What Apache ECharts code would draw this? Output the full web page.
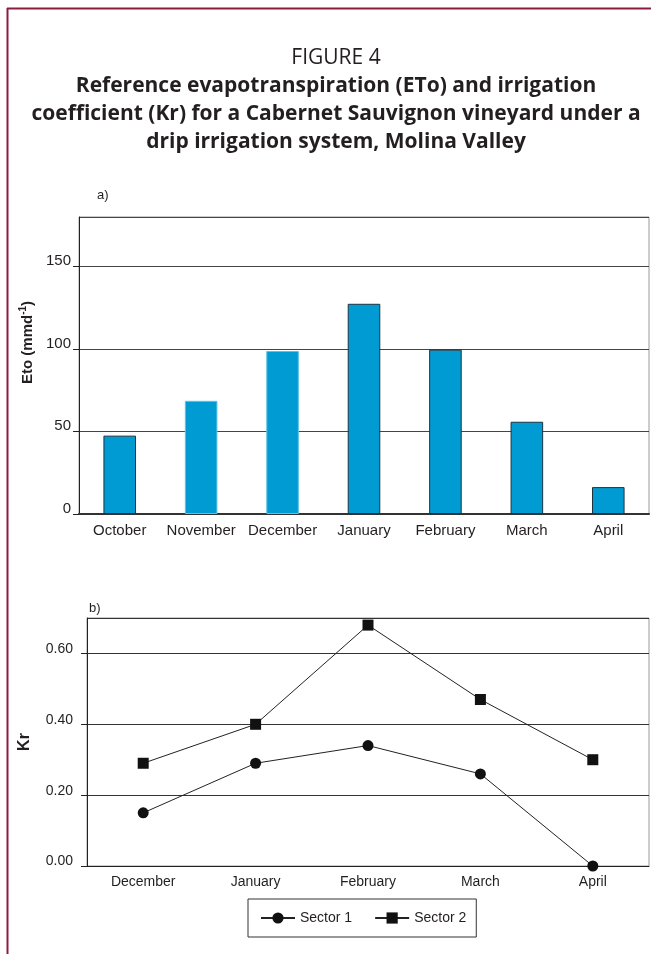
<!DOCTYPE html>
<html>
<head>
<meta charset="utf-8">
<script src="https://cdn.jsdelivr.net/npm/echarts@6/dist/echarts.min.js"></script>
<style>
  html, body { margin: 0; padding: 0; background: #fff; }
  #chart { width: 651px; height: 954px; }
</style>
</head>
<body>
<div id="chart"></div>
<script>
// panel a) monthly ETo
const etoMonths = ['October', 'November', 'December', 'January', 'February', 'March', 'April'];
const etoValues = [47.5, 68.6, 98.8, 127.4, 99.6, 55.9, 16.3];

// panel b) Kr per sector
const krMonths = ['December', 'January', 'February', 'March', 'April'];
const sector1 = [0.15, 0.29, 0.34, 0.26, 0.0];
const sector2 = [0.29, 0.40, 0.68, 0.47, 0.30];

const font = 'Liberation Sans, Arial, sans-serif';
const ink = '#231f20';

const chart = echarts.init(document.getElementById('chart'));

// November and December have no dark edge in the original
const barData = etoValues.map((v, i) => (i === 1 || i === 2)
  ? { value: v, itemStyle: { borderColor: '#5cc3e6' } }
  : v);

chart.setOption({
  animation: false,
  backgroundColor: '#fff',
  title: [
    {
      text: 'FIGURE 4',
      left: 331, top: 43, textAlign: 'center',
      textStyle: { fontFamily: 'Open Sans', fontWeight: 'normal', fontSize: 21, color: ink }
    },
    {
      text: 'Reference evapotranspiration (ETo) and irrigation\ncoefficient (Kr) for a Cabernet Sauvignon vineyard under a\ndrip irrigation system, Molina Valley',
      left: 331, top: 67, textAlign: 'center',
      textStyle: { fontFamily: 'Open Sans', fontWeight: 'bold', fontSize: 21, lineHeight: 28, color: ink }
    },
    { text: 'a)', left: 92, top: 184, textStyle: { fontFamily: font, fontWeight: 'normal', fontSize: 13, color: ink } },
    { text: 'b)', left: 84, top: 597, textStyle: { fontFamily: font, fontWeight: 'normal', fontSize: 13, color: ink } }
  ],
  graphic: [
    { type: 'line', shape: { x1: 7.5, y1: 8, x2: 7.5, y2: 954 }, style: { stroke: '#8b1c3c', lineWidth: 2 } },
    { type: 'line', shape: { x1: 7, y1: 8.5, x2: 651, y2: 8.5 }, style: { stroke: '#8b1c3c', lineWidth: 2 } }
  ],
  legend: {
    data: ['Sector 1', 'Sector 2'],
    left: 248, top: 899,
    padding: [12, 10, 12, 12],
    itemWidth: 34, itemHeight: 14, itemGap: 22,
    borderColor: '#333', borderWidth: 1,
    textStyle: { fontFamily: font, fontSize: 14, color: ink }
  },
  grid: [
    { left: 79, right: 2, top: 217, bottom: 440, show: true, borderColor: '#999', borderWidth: 1 },
    { left: 87, right: 2, top: 618, bottom: 88, show: true, borderColor: '#999', borderWidth: 1 }
  ],
  xAxis: [
    {
      type: 'category', gridIndex: 0, data: etoMonths,
      axisLine: { lineStyle: { color: '#333', width: 2 } },
      axisTick: { length: 5, lineStyle: { color: '#333' } },
      axisLabel: { fontFamily: font, fontSize: 15, color: ink, margin: 9, interval: 0 }
    },
    {
      type: 'category', gridIndex: 1, data: krMonths,
      axisLine: { lineStyle: { color: '#222', width: 1 } },
      axisTick: { length: 6, lineStyle: { color: '#222' } },
      axisLabel: { fontFamily: font, fontSize: 14, color: ink, margin: 9 }
    }
  ],
  yAxis: [
    {
      type: 'value', gridIndex: 0, min: 0, max: 180, interval: 50,
      name: 'Eto (mmd{sup|-1})', nameLocation: 'middle', nameGap: 41,
      nameTextStyle: {
        fontFamily: font, fontWeight: 'bold', fontSize: 15, color: ink,
        padding: [0, 0, 0, 46],
        rich: { sup: { fontFamily: font, fontWeight: 'bold', fontSize: 10, color: ink, padding: [0, 0, 8, 0] } }
      },
      axisLine: { show: true, lineStyle: { color: '#222' } },
      axisTick: { show: true, length: 6, lineStyle: { color: '#222' } },
      axisLabel: {
        fontFamily: font, fontSize: 15, color: ink, margin: 8,
        verticalAlign: 'bottom', lineHeight: 11, showMaxLabel: false
      },
      splitLine: { lineStyle: { color: '#444', width: 1 } }
    },
    {
      type: 'value', gridIndex: 1, min: 0, max: 0.7, interval: 0.2,
      name: 'Kr', nameLocation: 'middle', nameGap: 54,
      nameTextStyle: { fontFamily: font, fontWeight: 'bold', fontSize: 16, color: ink },
      axisLine: { show: true, lineStyle: { color: '#222' } },
      axisTick: { show: true, length: 6, lineStyle: { color: '#222' } },
      axisLabel: {
        fontFamily: font, fontSize: 14, color: ink, margin: 14,
        verticalAlign: 'bottom', lineHeight: 9, showMaxLabel: false,
        formatter: v => v.toFixed(2)
      },
      splitLine: { lineStyle: { color: '#333', width: 1 } }
    }
  ],
  series: [
    {
      type: 'bar', xAxisIndex: 0, yAxisIndex: 0, data: barData,
      barWidth: '40%',
      itemStyle: { color: '#009bd2', borderColor: '#1b3440', borderWidth: 1 }
    },
    {
      name: 'Sector 1', type: 'line', xAxisIndex: 1, yAxisIndex: 1, data: sector1,
      symbol: 'circle', symbolSize: 11, color: '#111',
      lineStyle: { color: '#222', width: 1 }, itemStyle: { color: '#111' }
    },
    {
      name: 'Sector 2', type: 'line', xAxisIndex: 1, yAxisIndex: 1, data: sector2,
      symbol: 'rect', symbolSize: 11, color: '#111',
      lineStyle: { color: '#222', width: 1 }, itemStyle: { color: '#111' }
    }
  ]
});
</script>
</body>
</html>
